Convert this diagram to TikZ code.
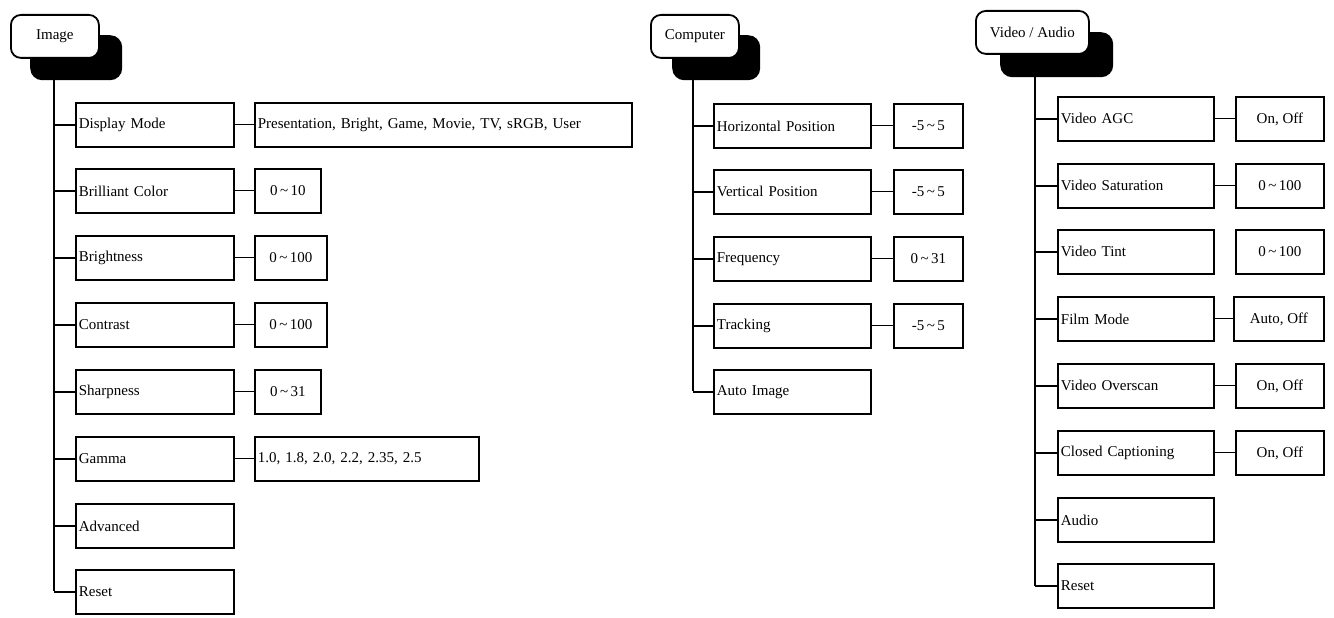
\documentclass[tikz,border=0pt]{standalone}
\usepackage{fontspec}
\setmainfont{Liberation Serif}
\begin{document}
\begin{tikzpicture}[x=1pt,y=-1pt,
  box/.style={draw,line width=1.8pt,anchor=north west,inner sep=0pt,minimum height=44pt,align=left,font=\fontsize{15}{17}\selectfont},
  val/.style={draw,line width=1.8pt,anchor=north west,inner sep=0pt,minimum height=44pt,align=center,font=\fontsize{15}{17}\selectfont},
  hw/.style={draw,fill=white,line width=1.8pt,rounded corners=10pt,anchor=north west,inner sep=0pt,minimum height=43pt,font=\fontsize{15}{17}\selectfont},
  hb/.style={fill=black,rounded corners=12pt,anchor=north west,inner sep=0pt,minimum height=45pt},
  ln/.style={line width=1.6pt},
  lt/.style={line width=1pt}]
\useasboundingbox (0,0) rectangle (1334,618);
% ---------- Image ----------
\node[hb,minimum width=92pt] (ib) at (30,35) {};
\node[hw,minimum width=88pt] (ih) at (10,14) {Image};
\coordinate (it) at (54,80);
\coordinate (ie) at (54,591);
\draw[ln] (it) -- (ie);
\foreach \n/\t/\y in {a/Display Mode/102,b/Brilliant Color/168,c/Brightness/235,d/Contrast/302,e/Sharpness/369,f/Gamma/436,g/Advanced/503,h/Reset/569}{
  \node[box,minimum width=158pt,text width=152pt] (i\n) at (75,\y) {\t};
  \coordinate (t\n) at (i\n.west -| it);
  \draw[ln] (t\n) -- (i\n.west);
}
\node[box,minimum width=377pt,text width=371pt] (va) at (254,102) {Presentation, Bright, Game, Movie, TV, sRGB, User};
\node[val,minimum width=66pt] (vb) at (254,168) {0\,\textasciitilde\,10};
\node[val,minimum width=72pt] (vc) at (254,235) {0\,\textasciitilde\,100};
\node[val,minimum width=72pt] (vd) at (254,302) {0\,\textasciitilde\,100};
\node[val,minimum width=66pt] (ve) at (254,369) {0\,\textasciitilde\,31};
\node[box,minimum width=224pt,text width=218pt] (vf) at (254,436) {1.0, 1.8, 2.0, 2.2, 2.35, 2.5};
\foreach \n in {a,b,c,d,e,f}{\draw[lt] (i\n.east) -- (v\n.west);}
% ---------- Computer ----------
\node[hb,minimum width=88pt] (cb) at (672,35) {};
\node[hw,minimum width=88pt] (ch) at (650,14) {Computer};
\coordinate (ct) at (693,78);
\coordinate (ce) at (693,391);
\draw[ln] (ct) -- (ce);
\foreach \n/\t/\y in {a/Horizontal Position/103,b/Vertical Position/169,c/Frequency/236,d/Tracking/303,e/Auto Image/369}{
  \node[box,minimum width=157pt,text width=151pt] (c\n) at (713,\y) {\t};
  \coordinate (u\n) at (c\n.west -| ct);
  \draw[ln] (u\n) -- (c\n.west);
}
\foreach \n/\t/\y in {a/-5\,\textasciitilde\,5/103,b/-5\,\textasciitilde\,5/169,c/0\,\textasciitilde\,31/236,d/-5\,\textasciitilde\,5/303}{
  \node[val,minimum width=69pt] (w\n) at (893,\y) {\t};
  \draw[lt] (c\n.east) -- (w\n.west);
}
% ---------- Video / Audio ----------
\node[hb,minimum width=113pt] (vbk) at (1000,32) {};
\node[hw,minimum width=113pt] (vh) at (975,10) {Video / Audio};
\coordinate (vt) at (1035,76);
\coordinate (ve2) at (1035,586);
\draw[ln] (vt) -- (ve2);
\foreach \n/\t/\y in {a/Video AGC/96,b/Video Saturation/163,c/Video Tint/229,d/Film Mode/296,e/Video Overscan/363,f/Closed Captioning/430,g/Audio/497,h/Reset/563}{
  \node[box,minimum width=156pt,text width=150pt] (m\n) at (1057,\y) {\t};
  \coordinate (s\n) at (m\n.west -| vt);
  \draw[ln] (s\n) -- (m\n.west);
}
\node[val,minimum width=88pt] (na) at (1235,96) {On, Off};
\node[val,minimum width=88pt] (nb) at (1235,163) {0\,\textasciitilde\,100};
\node[val,minimum width=88pt] (nc) at (1235,229) {0\,\textasciitilde\,100};
\node[val,minimum width=90pt] (nd) at (1233,296) {Auto, Off};
\node[val,minimum width=88pt] (ne) at (1235,363) {On, Off};
\node[val,minimum width=88pt] (nf) at (1235,430) {On, Off};
\foreach \n in {a,b,d,e,f}{\draw[lt] (m\n.east) -- (n\n.west);}
\end{tikzpicture}
\end{document}
